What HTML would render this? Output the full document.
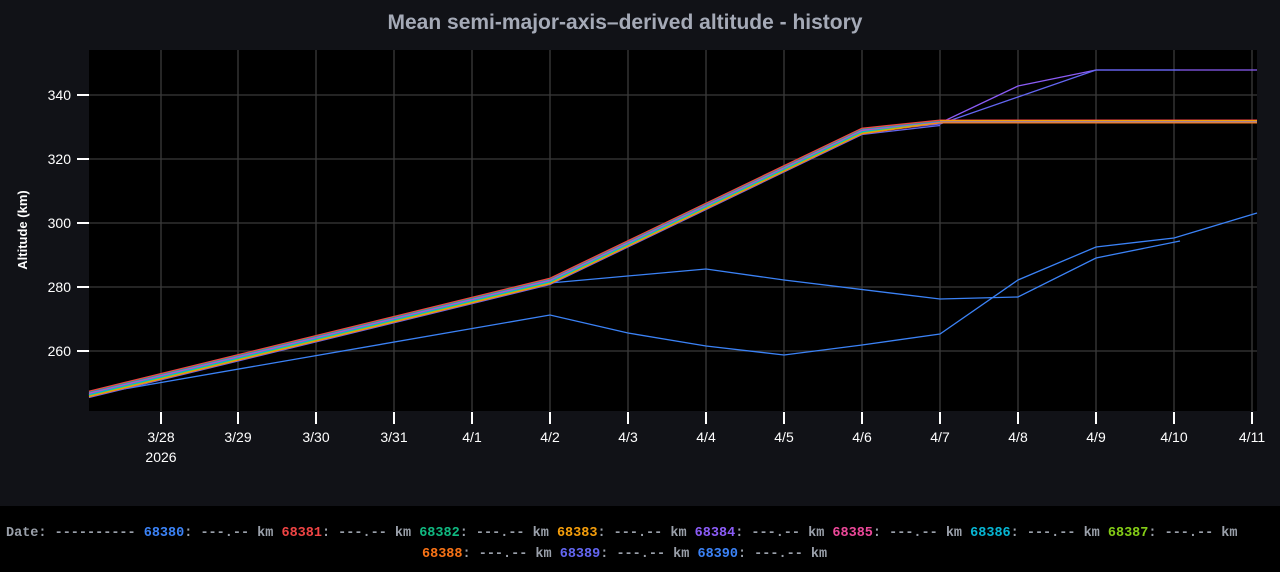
<!DOCTYPE html>
<html><head><meta charset="utf-8"><style>
html,body{margin:0;padding:0;width:1280px;height:572px;overflow:hidden;background:#000}
svg{display:block}
</style></head><body>
<svg width="1280" height="572" xmlns="http://www.w3.org/2000/svg">
<rect x="0" y="0" width="1280" height="506" fill="#111217"/>
<rect x="0" y="506" width="1280" height="66" fill="#000"/>
<text x="625" y="29" text-anchor="middle" font-family="Liberation Sans, sans-serif" font-weight="bold" font-size="21" fill="#a5aab7">Mean semi-major-axis–derived altitude - history</text>
<rect x="89" y="50" width="1168" height="361" fill="#000"/>
<g stroke="#3a3a3a" stroke-width="1.3">
<line x1="89" y1="95" x2="1257" y2="95"/><line x1="89" y1="159" x2="1257" y2="159"/><line x1="89" y1="223" x2="1257" y2="223"/><line x1="89" y1="287" x2="1257" y2="287"/><line x1="89" y1="351" x2="1257" y2="351"/>
<line x1="161" y1="50" x2="161" y2="411"/><line x1="238" y1="50" x2="238" y2="411"/><line x1="316" y1="50" x2="316" y2="411"/><line x1="394" y1="50" x2="394" y2="411"/><line x1="472" y1="50" x2="472" y2="411"/><line x1="550" y1="50" x2="550" y2="411"/><line x1="628" y1="50" x2="628" y2="411"/><line x1="706" y1="50" x2="706" y2="411"/><line x1="784" y1="50" x2="784" y2="411"/><line x1="862" y1="50" x2="862" y2="411"/><line x1="940" y1="50" x2="940" y2="411"/><line x1="1018" y1="50" x2="1018" y2="411"/><line x1="1096" y1="50" x2="1096" y2="411"/><line x1="1174" y1="50" x2="1174" y2="411"/><line x1="1252" y1="50" x2="1252" y2="411"/>
</g>
<g stroke="#fff" stroke-width="2">
<line x1="77" y1="95" x2="89" y2="95"/><line x1="77" y1="159" x2="89" y2="159"/><line x1="77" y1="223" x2="89" y2="223"/><line x1="77" y1="287" x2="89" y2="287"/><line x1="77" y1="351" x2="89" y2="351"/>
<line x1="161" y1="412" x2="161" y2="424"/><line x1="238" y1="412" x2="238" y2="424"/><line x1="316" y1="412" x2="316" y2="424"/><line x1="394" y1="412" x2="394" y2="424"/><line x1="472" y1="412" x2="472" y2="424"/><line x1="550" y1="412" x2="550" y2="424"/><line x1="628" y1="412" x2="628" y2="424"/><line x1="706" y1="412" x2="706" y2="424"/><line x1="784" y1="412" x2="784" y2="424"/><line x1="862" y1="412" x2="862" y2="424"/><line x1="940" y1="412" x2="940" y2="424"/><line x1="1018" y1="412" x2="1018" y2="424"/><line x1="1096" y1="412" x2="1096" y2="424"/><line x1="1174" y1="412" x2="1174" y2="424"/><line x1="1252" y1="412" x2="1252" y2="424"/>
</g>
<g font-family="Liberation Sans, sans-serif" font-size="14" fill="#fff">
<g text-anchor="end"><text x="71" y="100">340</text><text x="71" y="164">320</text><text x="71" y="228">300</text><text x="71" y="292">280</text><text x="71" y="356">260</text></g>
<g text-anchor="middle"><text x="161" y="442">3/28</text><text x="161" y="462">2026</text><text x="238" y="442">3/29</text><text x="316" y="442">3/30</text><text x="394" y="442">3/31</text><text x="472" y="442">4/1</text><text x="550" y="442">4/2</text><text x="628" y="442">4/3</text><text x="706" y="442">4/4</text><text x="784" y="442">4/5</text><text x="862" y="442">4/6</text><text x="940" y="442">4/7</text><text x="1018" y="442">4/8</text><text x="1096" y="442">4/9</text><text x="1174" y="442">4/10</text><text x="1252" y="442">4/11</text></g>
<text transform="translate(27,230) rotate(-90)" text-anchor="middle" font-weight="bold" font-size="13">Altitude (km)</text>
</g>
<g fill="none" stroke-width="1.3">
<polyline stroke="#3b82f6" points="89,395 550,315 628,333 706,346 784,355 862,345 940,334 1018,280 1096,247 1174,238 1257,213"/>
<polyline stroke="#3b82f6" points="89,395 550,283 706,269 784,280 940,299 1018,297 1096,258 1180,241"/>
<polyline stroke="#8b5cf6" points="89,394 550,281 862,131 940,123 1018,86 1096,70 1257,70"/>
<polyline stroke="#6366f1" points="89,394 550,282 862,132 940,124 1018,97 1096,70 1180,70"/>
<polyline stroke="#6366f1" transform="translate(0,3.5)" points="89,394 550,281 862,131 940,122"/>
<polyline stroke="#f97316" transform="translate(0,2.8)" points="89,394 550,281 862,131 940,120 1257,120"/>
<polyline stroke="#f59e0b" transform="translate(0,2.1)" points="89,394 550,281 862,131 940,120 1257,120"/>
<polyline stroke="#84cc16" transform="translate(0,1.4)" points="89,394 550,281 862,131 940,120 1257,120"/>
<polyline stroke="#06b6d4" transform="translate(0,0.7)" points="89,394 550,281 862,131 940,120 1257,120"/>
<polyline stroke="#ec4899" transform="translate(0,-0.7)" points="89,394 550,281 862,131 940,122 1257,122"/>
<polyline stroke="#8b5cf6" transform="translate(0,-1.4)" points="89,394 550,281 862,131 940,123 1257,123"/>
<polyline stroke="#10b981" transform="translate(0,-2.1)" points="89,394 550,281 862,131 940,123 1257,123"/>
<polyline stroke="#ef4444" transform="translate(0,-2.8)" points="89,394 550,281 862,131 940,123 1257,123"/>
<polyline stroke="#f59e0b" transform="translate(0,-0.3)" points="940,121 1257,121"/>
</g>
<g font-family="Liberation Mono, monospace" font-size="13.5" fill="#9aa0aa" font-weight="bold">
<text x="6" y="536" xml:space="preserve">Date: ---------- <tspan fill="#3b82f6">68380</tspan>: ---.-- km <tspan fill="#ef4444">68381</tspan>: ---.-- km <tspan fill="#10b981">68382</tspan>: ---.-- km <tspan fill="#f59e0b">68383</tspan>: ---.-- km <tspan fill="#8b5cf6">68384</tspan>: ---.-- km <tspan fill="#ec4899">68385</tspan>: ---.-- km <tspan fill="#06b6d4">68386</tspan>: ---.-- km <tspan fill="#84cc16">68387</tspan>: ---.-- km</text>
<text x="422" y="557" xml:space="preserve"><tspan fill="#f97316">68388</tspan>: ---.-- km <tspan fill="#6366f1">68389</tspan>: ---.-- km <tspan fill="#3b82f6">68390</tspan>: ---.-- km</text>
</g>
</svg>
</body></html>
